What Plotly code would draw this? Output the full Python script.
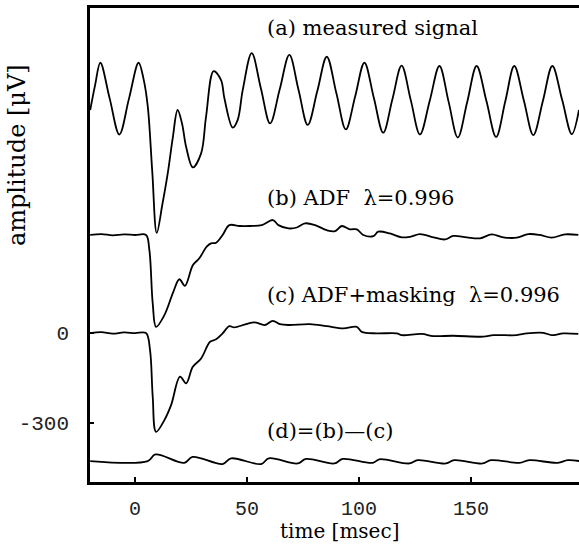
import plotly.graph_objects as go

# ---- data ----
t_a = [-20, -17.8, -15.5, -11.3, -7.0, -2.7, 1.6, 3.8, 5.7, 7.7, 9.7, 12.2, 14.6, 16.8, 19.0,
       21.0, 22.8, 25.8, 29.5, 31.7, 35.1, 38.4, 39.9, 43.6, 45.8, 48.1, 52.1, 56.2, 60.3,
       64.6, 68.9, 73.0, 77.1, 81.4, 85.6, 89.9, 94.1, 98.3, 102.4, 106.6, 110.8, 114.9,
       119.0, 123.1, 127.2, 131.6, 135.9, 140.0, 144.1, 148.3, 152.5, 156.9, 161.2, 165.3,
       169.3, 173.6, 177.8, 182.1, 186.3, 190.7, 195.0, 198.2]
sig_a = [746, 830, 904, 784, 664, 784, 904, 850, 757, 540, 335, 430, 534, 650, 746,
         700, 623, 554, 601, 723, 876, 846, 785, 687, 712, 813, 936, 818, 701,
         815, 930, 813, 696, 810, 924, 802, 681, 792, 904, 787, 670, 782,
         894, 779, 664, 778, 893, 773, 654, 773, 893, 775, 656, 775,
         893, 777, 662, 777, 893, 779, 665, 746]

t_b = [-20, -15, -10, -5, 0, 4.9, 6.4, 7.9, 9.4, 13.1, 17.1, 19.8, 22.3, 25.8, 28.7, 32.0,
       33.9, 36.2, 39.1, 42.1, 46.6, 51.3, 56.6, 61.5, 64.0, 68.5, 72.2, 75.9, 80.4, 85.6,
       89.3, 92.3, 96.0, 99.0, 101.9, 106.4, 108.6, 113.8, 119.1, 122.8, 127.2, 133.2,
       138.4, 142.1, 148.1, 154.0, 159.2, 164.4, 170.4, 175.6, 180.8, 186.0, 192.0, 197.9]
sig_b = [328, 331, 327, 330, 328, 328, 278, 99, 21, 60, 138, 180, 158, 227, 250, 289,
         300, 302, 328, 361, 358, 358, 361, 378, 361, 350, 353, 367, 361, 344,
         341, 358, 347, 347, 328, 324, 339, 333, 320, 322, 331, 320,
         313, 325, 320, 317, 330, 320, 319, 331, 328, 319, 330, 328]

t_c = [-20, -15, -10, -5, 0, 4.9, 6.7, 7.9, 9.4, 13.1, 16.1, 20.1, 22.8, 25.8, 29.5, 33.5,
       36.2, 39.1, 42.1, 44.3, 49.6, 53.3, 58.0, 61.5, 64.7, 68.5, 78.1, 85.6, 93.0, 99.0,
       101.2, 107.9, 116.8, 119.1, 128.0, 133.2, 142.1, 155.5, 160.0, 170.4, 174.9, 182.3,
       186.0, 191.2, 197.9]
sig_c = [0, 3, -2, 2, 0, 0, -57, -213, -330, -291, -241, -146, -168, -113, -85, -29,
         -21, -1, 23, 19, 30, 36, 27, 41, 30, 27, 30, 23, 16, 21,
         4, -1, -1, -7, -3, -10, -9, -12, -7, -7, -1, 1,
         -7, -1, -3]

t_d = [-20, 5.7, 9.1, 22.0, 25.7, 39.1, 42.9, 56.3, 59.7, 72.6, 76.3, 89.0, 92.7, 106.1,
       109.1, 122.5, 126.2, 138.8, 142.5, 155.2, 158.9, 171.6, 176.0, 188.7, 193.2, 198.4]
sig_d = [-428, -428, -406, -434, -414, -438, -419, -438, -419, -436, -421, -436, -421, -434,
         -422, -436, -425, -436, -425, -436, -425, -434, -425, -434, -425, -428]

x_ticks = [0, 50, 100, 150]
y_ticks = [0, -300]
y_tick_labels = ["0", "-300"]

labels = ["(a) measured signal", "(b) ADF  λ=0.996", "(c) ADF+masking  λ=0.996", "(d)=(b)—(c)"]
label_y = [1020, 452, 128, -327]

fig = go.Figure()
for t, s in [(t_a, sig_a), (t_b, sig_b), (t_c, sig_c), (t_d, sig_d)]:
    fig.add_trace(go.Scatter(x=t, y=s, mode="lines",
                             line=dict(color="black", width=1.8, shape="spline", smoothing=1.0),
                             showlegend=False, hoverinfo="skip"))

serif = "DejaVu Serif"
for txt, yv in zip(labels, label_y):
    fig.add_annotation(x=58.0, y=yv, xref="x", yref="y", text=txt, showarrow=False,
                       xanchor="left", yanchor="middle",
                       font=dict(family=serif, size=21, color="black"))

fig.add_annotation(x=0.51, y=-0.104, xref="paper", yref="paper", text="time [msec]",
                   showarrow=False, xanchor="center", yanchor="middle",
                   font=dict(family=serif, size=20, color="black"))
fig.add_annotation(x=-0.149, y=0.69, xref="paper", yref="paper", text="amplitude [μV]",
                   showarrow=False, textangle=-90, xanchor="center", yanchor="middle",
                   font=dict(family=serif, size=24, color="black"))

fig.update_layout(
    width=579, height=556,
    margin=dict(l=90, r=0, t=8, b=74),
    plot_bgcolor="white", paper_bgcolor="white",
    xaxis=dict(range=[-20.1, 198.2], tickvals=x_ticks, ticks="inside", ticklen=5,
               tickwidth=1.5, tickcolor="black", showgrid=False, zeroline=False,
               showline=True, linecolor="black", linewidth=2.5, mirror=True,
               ticklabelstandoff=6,
               tickfont=dict(family="Liberation Mono", size=20, color="#222")),
    yaxis=dict(range=[-498, 1087], tickvals=y_ticks, ticktext=y_tick_labels,
               ticks="inside", ticklen=4, tickwidth=1.5, tickcolor="black",
               showgrid=False, zeroline=False, showline=True, linecolor="black",
               linewidth=2.5, ticklabelstandoff=14,
               tickfont=dict(family="Liberation Mono", size=21, color="#222")),
)

# remove the default 8px page margin so the figure sits at the window's corner
fig.write_html("out.html", config={"displayModeBar": False},
               post_script="document.body.style.margin='0';")
